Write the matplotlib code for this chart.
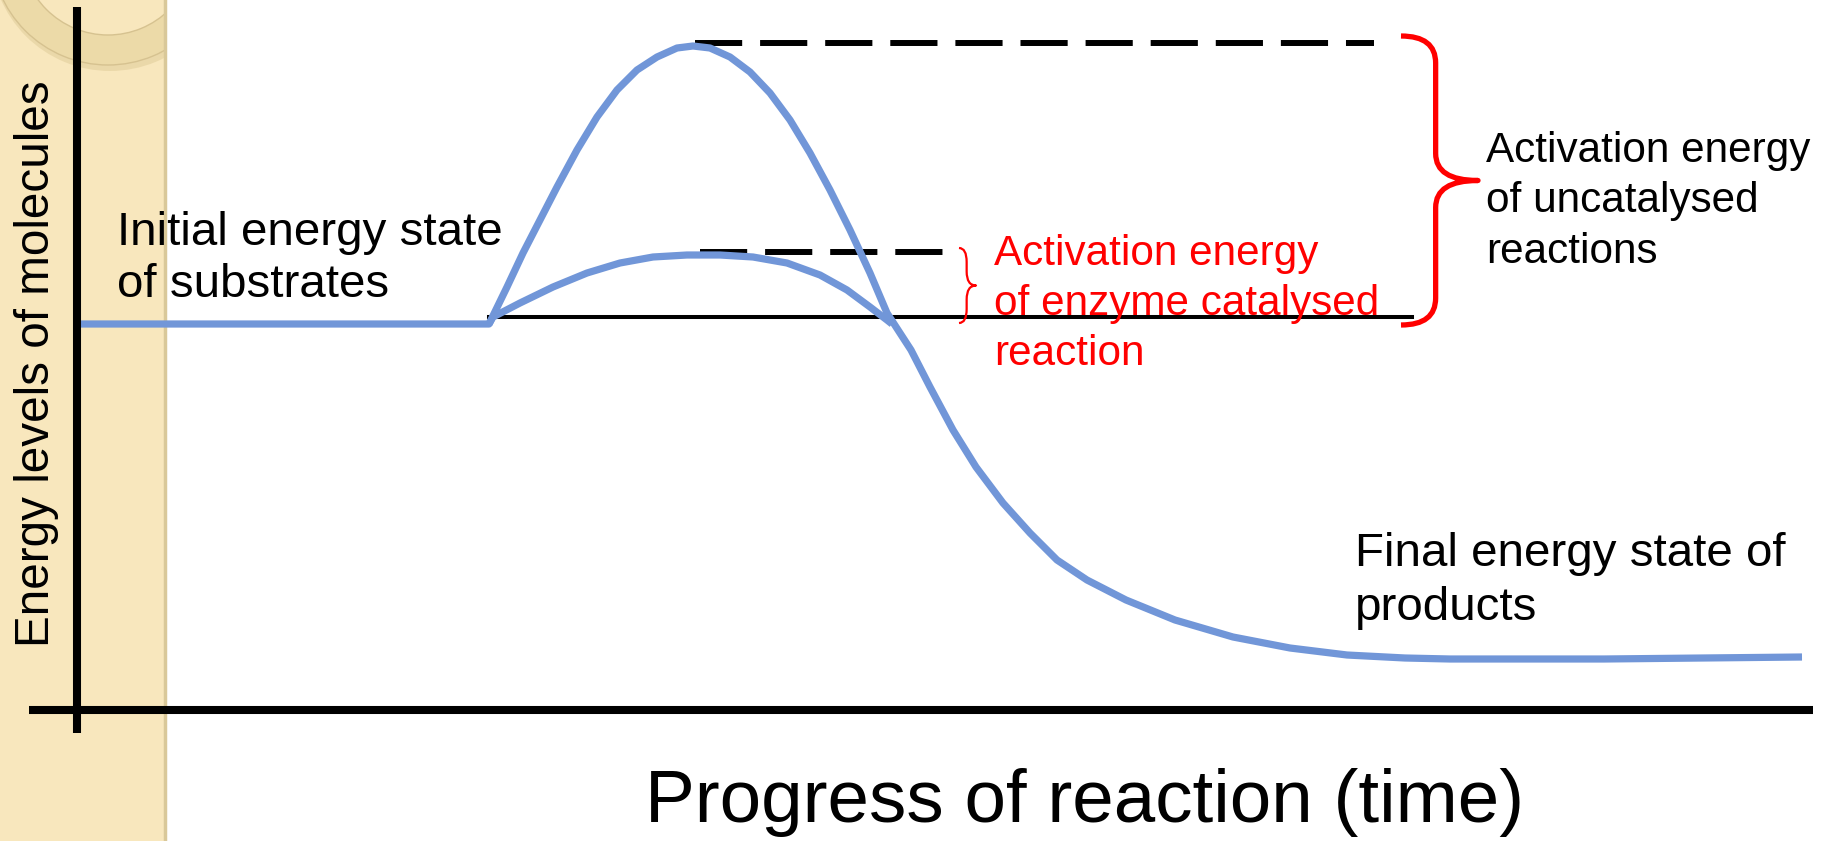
import matplotlib
matplotlib.use('Agg')
import matplotlib.pyplot as plt
from matplotlib.patches import Rectangle, Wedge, PathPatch
from matplotlib.path import Path

plt.rcParams['font.family'] = ['Liberation Sans', 'DejaVu Sans']

# progress of reaction (x) and energy level (y)
uncat_x = [0, 412, 430, 446, 463, 480, 500, 520, 540, 560, 580, 600, 616, 633,
           653, 673, 693, 713, 733, 753, 773, 793, 810, 834, 853, 876, 899, 926,
           953, 980, 1010, 1049, 1098, 1156, 1213, 1270, 1328, 1373, 1527, 1725]
uncat_y = [386, 386, 423, 457, 490, 523, 560, 593, 620, 640, 653, 662, 664, 662,
           653, 638, 617, 590, 557, 520, 480, 437, 397, 360, 323, 280, 243, 207,
           177, 150, 130, 110, 90, 73, 62, 55, 52, 51, 51, 53]
cat_x = [412, 416, 443, 476, 510, 543, 576, 610, 643, 676, 710, 743, 770, 793, 810, 815]
cat_y = [386, 393, 407, 423, 437, 447, 453, 455, 455, 453, 447, 435, 420, 403, 390, 386]

substrate_line = (412, 1335, 393)      # x start, x end, level
uncat_peak_line = (618, 1297, 667)
cat_peak_line = (623, 868, 458)

BLUE = '#7196d8'
RED = '#ff0000'


def brace(ax, x, y0, y1, width, curl, color, lw):
    # vertical curly brace, opening to the left, point to the right
    xm = x + width * 0.45
    xp = x + width
    ym = (y0 + y1) / 2
    verts = [(x, y1), (xm, y1), (xm, y1 - curl),
             (xm, ym + curl), (xm, ym), (xp, ym),
             (xm, ym), (xm, ym - curl),
             (xm, y0 + curl), (xm, y0), (x, y0)]
    codes = [Path.MOVETO, Path.CURVE3, Path.CURVE3,
             Path.LINETO, Path.CURVE3, Path.CURVE3,
             Path.CURVE3, Path.CURVE3,
             Path.LINETO, Path.CURVE3, Path.CURVE3]
    ax.add_patch(PathPatch(Path(verts, codes), fill=False, edgecolor=color,
                           lw=lw, capstyle='butt', joinstyle='round', zorder=4))


fig = plt.figure(figsize=(18.29, 8.41), dpi=100, facecolor='white')
ax = fig.add_axes([0, 0, 1, 1])
ax.set_xlim(-77, 1752)
ax.set_ylim(-131, 710)
ax.patch.set_visible(False)

# beige slide strip on the left
strip = Rectangle((-77, -131), 165, 841, facecolor='#f8e7bd', edgecolor='none', zorder=0)
ax.add_patch(strip)
ring_shadow = Wedge((33, 758), 119, 0, 360, width=30, facecolor='#e2cf9c',
                    edgecolor='none', alpha=0.6, zorder=0.4)
ring = Wedge((31, 762), 117, 0, 360, width=30, facecolor='#ecdaa8',
             edgecolor='#d6c290', lw=1, zorder=0.5)
for p in (ring_shadow, ring):
    ax.add_patch(p)
    p.set_clip_path(strip)
ax.axvline(87.5, color='#d9c899', lw=2.5, zorder=0.6)

# axes as spines crossing each other
for side in ['top', 'right']:
    ax.spines[side].set_visible(False)
ax.spines['left'].set_position(('data', 0))
ax.spines['bottom'].set_position(('data', 0))
ax.spines['left'].set_bounds(-23, 703)
ax.spines['bottom'].set_bounds(-48, 1736)
for side in ['left', 'bottom']:
    ax.spines[side].set_linewidth(5.8)
    ax.spines[side].set_capstyle('butt')
    ax.spines[side].set_zorder(3)
ax.set_xticks([])
ax.set_yticks([])

ax.plot([substrate_line[0], substrate_line[1]], [substrate_line[2]] * 2,
        color='black', lw=2.9, zorder=2)
for x0, x1, y in [uncat_peak_line, cat_peak_line]:
    ax.plot([x0, x1], [y, y], color='black', lw=4.3, dashes=(7.9, 3.0),
            dash_capstyle='butt', zorder=2)

ax.plot(uncat_x, uncat_y, color=BLUE, lw=5.2, solid_joinstyle='round',
        solid_capstyle='butt', zorder=2.5)
ax.plot(cat_x, cat_y, color=BLUE, lw=5.2, solid_joinstyle='round',
        solid_capstyle='butt', zorder=2.5)

brace(ax, 1324, substrate_line[2] - 8, uncat_peak_line[2] + 7, 77, 27, RED, 3.8)
brace(ax, 882, substrate_line[2] - 6, cat_peak_line[2] + 4, 17, 14, RED, 1.6)

ax.text(40, 413, 'Initial energy state\nof substrates', fontsize=34.2,
        linespacing=1.24, ha='left', va='baseline', color='black')
ax.text(1278, 90, 'Final energy state of\nproducts', fontsize=34.2,
        linespacing=1.3, ha='left', va='baseline', color='black')
ax.text(1409, 447, 'Activation energy\nof uncatalysed\nreactions', fontsize=30.4,
        linespacing=1.34, ha='left', va='baseline', color='black')
ax.text(917, 345, 'Activation energy\nof enzyme catalysed\nreaction', fontsize=30.4,
        linespacing=1.33, ha='left', va='baseline', color=RED)
ax.text(1008, -112, 'Progress of reaction (time)', fontsize=53.7,
        ha='center', va='baseline', color='black')
ax.text(-40, 346, 'Energy levels of molecules', fontsize=34.3, rotation=90,
        ha='center', va='center', color='black')

fig.savefig('out.png', dpi=100, facecolor='white')
